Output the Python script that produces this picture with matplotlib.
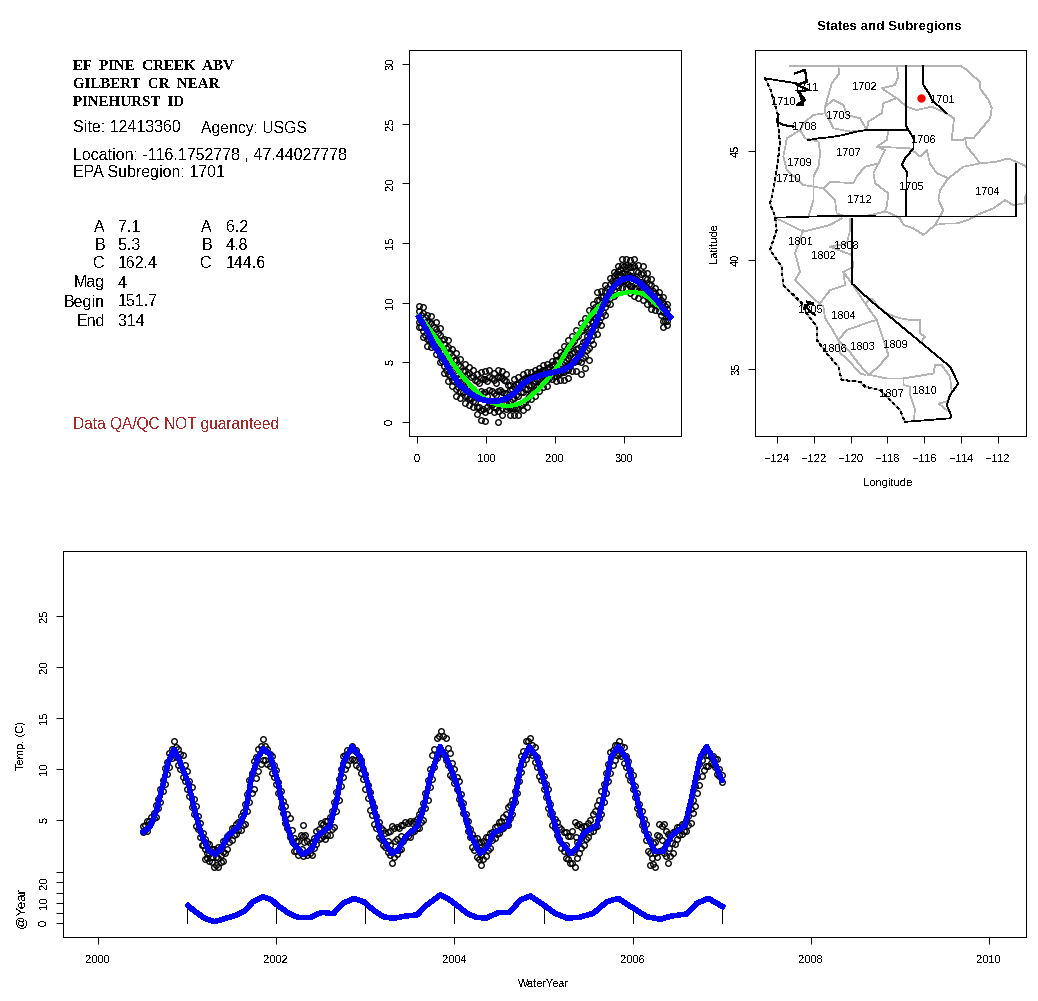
import matplotlib
matplotlib.use('Agg')
import matplotlib.pyplot as plt

plt.rcParams['font.family'] = ['Liberation Sans', 'DejaVu Sans']
plt.rcParams['text.antialiased'] = False
plt.rcParams['lines.antialiased'] = False
plt.rcParams['patch.antialiased'] = False

W, H = 1038, 1001

# --- seasonal panel ---
doy_a = list(range(3, 364, 6))
temp_hi = [9.7, 9.6, 9.0, 8.9, 8.4, 7.9, 7.0, 6.9, 6.1, 5.8, 5.3, 4.9, 4.6, 4.4, 4.0, 4.2, 4.3, 4.4, 4.1, 4.4, 4.3,
           4.0, 3.1, 3.6, 3.8, 4.0, 4.2, 4.2, 4.4, 4.5, 4.8, 4.9, 5.1, 5.6, 5.9, 6.4, 6.9, 7.2, 7.7, 8.3, 8.7,
           9.4, 9.9, 10.9, 11.0, 11.5, 12.1, 12.6, 13.1, 13.7, 13.7, 13.6, 13.7, 13.2, 13.1, 12.5, 12.0, 11.2,
           10.9, 10.5, 9.9]
temp_lo = [8.0, 7.1, 6.4, 6.3, 5.7, 5.0, 4.1, 3.4, 3.0, 2.2, 2.0, 1.6, 1.4, 1.3, 0.7, 0.2, 0.1, 1.0, 0.8, 0.0, 0.6,
           1.1, 0.6, 0.6, 0.6, 1.0, 1.3, 1.9, 2.2, 2.6, 2.9, 3.0, 3.6, 3.4, 3.5, 3.5, 3.7, 4.3, 4.3, 4.0, 4.5,
           5.2, 6.5, 7.4, 8.1, 9.0, 9.9, 10.6, 11.3, 11.2, 11.2, 10.8, 10.6, 10.4, 10.2, 9.9, 9.5, 9.4, 9.3,
           8.0, 8.1]
temp_u1 = [9.3, 9.1, 8.5, 8.3, 7.8, 7.3, 6.5, 6.3, 5.5, 5.2, 4.7, 4.3, 4.1, 3.9, 3.4, 3.7, 3.6, 3.8, 3.5, 3.8, 3.7,
           3.4, 2.7, 3.0, 3.2, 3.5, 3.7, 3.8, 4.0, 4.2, 4.4, 4.5, 4.8, 5.2, 5.4, 5.8, 6.3, 6.6, 7.1, 7.6, 8.0,
           8.7, 9.3, 10.2, 10.5, 11.0, 11.6, 12.2, 12.7, 13.2, 13.2, 13.0, 13.1, 12.6, 12.5, 12.0, 11.5, 10.8,
           10.5, 10.0, 9.5]
temp_c = [8.9, 8.3, 7.7, 7.5, 7.0, 6.4, 5.5, 5.1, 4.5, 4.0, 3.6, 3.2, 3.0, 2.8, 2.4, 2.6, 2.5, 2.7, 2.4, 2.6, 2.5,
          2.4, 1.8, 2.0, 2.2, 2.5, 2.8, 3.1, 3.4, 3.6, 3.9, 4.0, 4.4, 4.6, 4.8, 5.0, 5.4, 5.8, 6.1, 6.4, 6.8,
          7.5, 8.4, 9.2, 9.6, 10.3, 11.0, 11.6, 12.2, 12.5, 12.4, 12.2, 12.1, 11.8, 11.6, 11.2, 10.7, 10.3,
          10.1, 9.2, 9.0]
temp_l1 = [8.4, 7.6, 7.0, 6.8, 6.2, 5.5, 4.7, 4.0, 3.5, 2.8, 2.6, 2.2, 2.0, 1.8, 1.3, 1.0, 0.8, 1.6, 1.3, 0.9, 1.2,
           1.6, 1.2, 1.2, 1.2, 1.6, 1.9, 2.4, 2.7, 3.0, 3.3, 3.5, 4.0, 3.9, 4.1, 4.2, 4.4, 5.0, 5.1, 5.0, 5.5,
           6.2, 7.3, 8.2, 8.8, 9.6, 10.4, 11.1, 11.7, 11.8, 11.7, 11.4, 11.2, 11.0, 10.8, 10.5, 10.0, 9.8,
           9.7, 8.5, 8.5]

doy_b = list(range(6, 361, 6))
temp_m1 = [9.0, 8.8, 8.4, 8.0, 7.5, 6.9, 6.2, 5.8, 5.2, 4.8, 4.3, 4.0, 3.8, 3.5, 3.3, 3.6, 3.4, 3.7, 3.3, 3.8, 3.5,
           3.1, 2.8, 3.2, 3.4, 3.7, 3.8, 3.9, 4.1, 4.3, 4.4, 4.6, 4.9, 5.2, 5.6, 6.0, 6.4, 6.8, 7.2, 7.7, 8.2,
           8.9, 9.6, 10.2, 10.6, 11.2, 11.8, 12.4, 12.8, 13.1, 13.0, 13.0, 12.7, 12.4, 12.1, 11.6, 11.0, 10.6,
           10.2, 9.7]
temp_m2 = [8.5, 8.0, 7.6, 7.2, 6.7, 6.0, 5.3, 4.8, 4.3, 3.7, 3.4, 3.0, 2.8, 2.5, 2.3, 2.4, 2.2, 2.6, 2.3, 2.7, 2.4,
           2.1, 1.9, 2.3, 2.5, 2.8, 3.1, 3.3, 3.6, 3.8, 3.9, 4.1, 4.4, 4.6, 4.9, 5.2, 5.6, 5.9, 6.2, 6.7, 7.2,
           7.9, 8.7, 9.4, 9.9, 10.6, 11.2, 11.9, 12.3, 12.5, 12.4, 12.2, 12.0, 11.7, 11.4, 11.0, 10.5, 10.1,
           9.6, 9.1]
temp_m3 = [8.0, 7.3, 6.9, 6.4, 6.0, 5.1, 4.4, 3.9, 3.4, 2.9, 2.5, 2.2, 2.0, 1.7, 1.3, 1.1, 1.3, 1.5, 1.2, 1.4, 1.5,
           1.3, 1.2, 1.2, 1.4, 1.7, 2.2, 2.6, 3.0, 3.2, 3.4, 3.7, 3.9, 4.0, 4.2, 4.4, 4.7, 5.0, 5.1, 5.4, 6.0,
           6.9, 7.8, 8.5, 9.2, 10.0, 10.7, 11.4, 11.8, 11.8, 11.6, 11.4, 11.2, 11.0, 10.7, 10.3, 10.0, 9.7,
           9.0, 8.5]

fit_doy = [3, 14, 26, 38, 50, 62, 77, 91, 103, 118, 130, 142, 154, 166, 181, 200, 212, 224, 236, 248, 260, 272,
           284, 297, 309, 321, 333, 345, 357, 367]
fit_blue = [8.8, 7.7, 6.3, 5.3, 4.1, 3.1, 2.4, 1.93, 1.76, 1.76, 1.98, 2.46, 3.24, 3.66, 3.94, 4.2, 4.36, 4.78,
            5.6, 6.87, 8.4, 10.1, 11.3, 11.96, 12.1, 11.76, 11.1, 10.4, 9.5, 8.8]
sine_doy = [3, 14, 26, 38, 50, 62, 77, 91, 103, 118, 132, 147, 161, 176, 190, 205, 219, 234, 248, 263, 277, 292,
            309, 326, 338, 352, 367]
sine_green = [8.9, 8.1, 7.15, 6.2, 5.05, 4.1, 3.1, 2.26, 1.8, 1.43, 1.34, 1.5, 1.98, 2.74, 3.66, 4.78, 6.17, 7.43,
              8.69, 9.66, 10.37, 10.73, 10.92, 10.79, 10.37, 9.61, 8.8]

# --- time series panel ---
years = [2000.5 + 0.05 * i for i in range(131)]
series_hi = [4.4, 4.9, 5.3, 6.5, 8.0, 10.1, 11.6, 12.7, 12.0, 11.4,
             9.8, 8.2, 6.4, 4.7, 3.1, 2.6, 2.2, 2.4, 2.9, 3.4, 4.2, 4.6, 5.4, 6.6, 8.9, 10.8, 12.0, 12.9, 12.0, 11.3,
             9.9, 7.8, 6.4, 5.2, 3.2, 2.9, 4.5, 2.9, 2.8, 3.9, 4.7, 4.9, 5.3, 6.8, 9.0, 11.3, 11.9, 12.3, 11.9, 10.9,
             9.5, 7.7, 6.3, 4.8, 4.0, 3.8, 4.4, 4.3, 4.5, 4.8, 4.9, 4.9, 5.6, 6.7, 8.9, 11.4, 13.0, 13.7, 13.0, 11.6,
             10.0, 8.8, 6.7, 4.9, 3.6, 3.2, 2.8, 3.3, 3.7, 4.3, 4.8, 5.3, 6.3, 7.0, 9.0, 11.3, 12.7, 13.0, 12.2, 10.6,
             9.3, 8.0, 5.7, 4.8, 4.1, 3.8, 3.4, 4.8, 4.6, 4.4, 4.7, 5.6, 6.5, 7.8, 9.6, 11.7, 12.4, 12.7, 12.2, 10.8,
             9.4, 7.6, 5.9, 4.6, 3.0, 2.8, 4.6, 4.6, 3.6, 3.8, 4.3, 4.6, 5.0, 6.1, 8.3, 10.5, 11.7, 11.4, 11.3, 11.0,
             9.4]
series_lo = [3.8, 3.9, 4.8, 5.3, 6.8, 8.5, 10.2, 11.6, 10.4, 9.2,
             8.0, 6.3, 4.4, 3.3, 1.2, 1.0, 0.4, 0.4, 1.0, 2.2, 3.0, 3.6, 4.0, 4.6, 6.8, 8.0, 9.8, 10.9, 10.5, 9.6,
             8.5, 6.3, 4.7, 3.3, 2.0, 1.6, 1.5, 1.6, 1.6, 2.6, 3.2, 3.1, 3.5, 4.3, 7.0, 9.2, 10.4, 11.0, 10.4, 9.6,
             8.0, 6.0, 4.6, 3.3, 2.5, 1.9, 0.8, 1.7, 2.2, 3.2, 3.3, 3.9, 4.2, 5.0, 7.0, 9.0, 11.1, 11.6, 10.9, 9.4,
             8.6, 7.1, 5.7, 3.9, 2.4, 1.4, 0.6, 1.5, 2.3, 3.2, 3.7, 4.2, 4.5, 5.6, 7.6, 9.7, 11.0, 11.7, 10.7, 9.3,
             8.0, 6.2, 4.5, 3.5, 2.3, 1.3, 0.8, 0.4, 1.8, 2.5, 3.3, 3.9, 4.4, 5.6, 7.6, 9.6, 10.9, 11.5, 10.6, 9.4,
             8.0, 6.2, 4.5, 3.0, 0.6, 0.4, 2.0, 1.8, 0.8, 1.8, 3.1, 3.6, 3.9, 4.7, 6.4, 8.4, 9.9, 10.3, 10.5, 9.5,
             8.7]

years_mid = [2000.525 + 0.05 * i for i in range(130)]
series_up = [4.5, 4.9, 5.7, 7.1, 8.9, 10.7, 12.0, 12.2, 11.5, 10.4,
             8.8, 7.1, 5.4, 3.7, 2.7, 2.2, 2.1, 2.4, 3.0, 3.6, 4.2, 4.8, 5.8, 7.5, 9.6, 11.2, 12.3, 12.3, 11.5, 10.4,
             8.7, 6.9, 5.6, 4.0, 2.9, 3.5, 3.5, 2.7, 3.2, 4.1, 4.6, 4.9, 5.9, 7.7, 10.0, 11.4, 11.9, 11.9, 11.2, 10.0,
             8.4, 6.8, 5.4, 4.2, 3.7, 3.9, 4.2, 4.2, 4.5, 4.7, 4.7, 5.1, 6.0, 7.6, 10.0, 12.0, 13.2, 13.2, 12.1, 10.6,
             9.2, 7.5, 5.6, 4.1, 3.2, 2.8, 2.9, 3.3, 3.8, 4.4, 4.9, 5.6, 6.5, 7.8, 10.0, 11.8, 12.7, 12.4, 11.2, 9.8,
             8.5, 6.6, 5.1, 4.3, 3.8, 3.4, 3.9, 4.5, 4.3, 4.4, 5.0, 5.9, 7.0, 8.5, 10.5, 11.9, 12.4, 12.3, 11.3, 9.9,
             8.3, 6.6, 5.1, 3.6, 2.7, 3.5, 4.4, 3.9, 3.5, 3.9, 4.3, 4.6, 5.4, 7.0, 9.2, 10.9, 11.4, 11.2, 11.0, 10.0]
series_dn = [4.0, 4.5, 5.2, 6.2, 7.8, 9.5, 11.1, 11.2, 10.0, 8.8,
             7.4, 5.6, 4.1, 2.5, 1.3, 0.9, 0.6, 0.9, 1.8, 2.8, 3.5, 4.0, 4.5, 5.9, 7.6, 9.1, 10.5, 10.9, 10.3, 9.2,
             7.6, 5.7, 4.2, 2.9, 2.0, 1.8, 1.8, 1.8, 2.3, 3.1, 3.4, 3.5, 4.1, 5.9, 8.3, 10.0, 10.9, 10.9, 10.2, 9.0,
             7.2, 5.5, 4.2, 3.1, 2.4, 1.6, 1.4, 2.1, 2.9, 3.4, 3.8, 4.2, 4.8, 6.2, 8.2, 10.2, 11.5, 11.5, 10.4, 9.2,
             8.0, 6.6, 5.0, 3.3, 2.1, 1.2, 1.2, 2.1, 3.0, 3.6, 4.1, 4.5, 5.2, 6.8, 8.8, 10.5, 11.5, 11.4, 10.2, 8.9,
             7.3, 5.6, 4.2, 3.1, 2.0, 1.2, 0.8, 1.3, 2.3, 3.1, 3.8, 4.3, 5.2, 6.8, 8.8, 10.4, 11.4, 11.3, 10.2, 8.9,
             7.3, 5.6, 4.0, 2.0, 0.7, 1.4, 2.1, 1.5, 1.5, 2.6, 3.5, 3.9, 4.5, 5.7, 7.6, 9.3, 10.3, 10.6, 10.2, 9.3]

winter_year = [2001.17, 2001.2, 2001.225, 2001.25, 2001.28, 2001.32, 2001.35, 2001.38, 2001.40, 2002.29, 2002.30,
               2002.31, 2003.25, 2003.28, 2003.30, 2003.33, 2003.36, 2003.40, 2004.27, 2004.30, 2004.33, 2005.25,
               2005.28, 2005.33, 2005.36, 2005.38, 2005.42, 2006.19, 2006.22, 2006.25, 2006.30, 2006.33, 2006.37,
               2006.41, 2006.44]
winter_temp = [2.5, 2.2, 1.8, 1.7, 1.4, 1.4, 1.3, 1.6, 1.9, 2.2, 3.4, 2.8, 2.9, 2.5, 2.0, 2.9, 3.1, 3.4, 2.2, 1.6,
               2.3, 2.5, 1.9, 1.9, 3.3, 2.8, 3.2, 1.8, 1.3, 1.8, 3.4, 3.0, 2.6, 2.3, 2.7]

trend_year = [2000.509, 2000.584, 2000.659, 2000.733, 2000.789, 2000.853, 2000.92, 2001.013, 2001.089, 2001.164,
              2001.238, 2001.313, 2001.388, 2001.462, 2001.575, 2001.65, 2001.725, 2001.8, 2001.855, 2001.93,
              2002.023, 2002.099, 2002.19, 2002.30, 2002.40, 2002.47, 2002.60, 2002.68, 2002.75, 2002.85, 2002.94,
              2003.03, 2003.11, 2003.18, 2003.30, 2003.37, 2003.45, 2003.58, 2003.65, 2003.73, 2003.84, 2003.93,
              2004.03, 2004.10, 2004.18, 2004.29, 2004.36, 2004.44, 2004.60, 2004.68, 2004.75, 2004.84, 2004.92,
              2005.02, 2005.09, 2005.18, 2005.30, 2005.37, 2005.45, 2005.60, 2005.67, 2005.76, 2005.84, 2005.93,
              2006.01, 2006.08, 2006.16, 2006.25, 2006.34, 2006.44, 2006.59, 2006.66, 2006.76, 2006.83, 2006.91,
              2007.0]
trend_temp = [3.85, 4.34, 5.98, 8.6, 10.7, 11.93, 10.7, 8.6, 5.8, 3.5, 2.06, 1.63, 2.2, 3.5, 4.34, 5.65, 9.25, 11.2,
              12.0, 11.4, 8.6, 5.0, 2.7, 1.63, 2.2, 3.5, 4.34, 6.96, 10.56, 12.2, 11.2, 8.4, 5.65, 3.36, 1.73, 2.06,
              3.36, 4.34, 6.0, 9.25, 12.2, 10.7, 8.4, 6.0, 3.5, 1.73, 2.2, 3.7, 4.5, 7.1, 10.56, 12.2, 11.2, 8.4, 5.65,
              3.0, 1.73, 2.2, 3.7, 4.5, 7.1, 11.2, 12.2, 11.05, 8.4, 6.0, 3.5, 1.9, 1.9, 3.5, 4.5, 7.1, 11.2, 12.2,
              10.9, 8.9]

anom_year = [2001.013, 2001.09, 2001.2, 2001.31, 2001.43, 2001.56, 2001.65, 2001.74, 2001.855, 2001.95, 2002.02,
             2002.14, 2002.25, 2002.38, 2002.51, 2002.64, 2002.75, 2002.87, 2002.98, 2003.09, 2003.20, 2003.31,
             2003.46, 2003.58, 2003.69, 2003.84, 2003.91, 2004.01, 2004.14, 2004.25, 2004.36, 2004.49, 2004.62,
             2004.74, 2004.85, 2005.0, 2005.13, 2005.26, 2005.39, 2005.56, 2005.71, 2005.84, 2006.01, 2006.16,
             2006.31, 2006.44, 2006.61, 2006.72, 2006.85, 2007.01]
anom_val = [8.6, 5.7, 2.4, 0.8, 2.4, 4.1, 6.2, 10.6, 13.0, 11.4, 8.6, 4.9, 2.8, 2.8, 5.4, 4.7, 9.8, 12.2, 10.6, 6.5,
            3.2, 2.4, 3.6, 4.1, 9.0, 13.9, 12.5, 9.5, 4.9, 2.8, 2.6, 5.2, 5.4, 11.4, 13.4, 9.0, 4.9, 2.6, 2.8, 4.9,
            10.6, 12.2, 7.35, 3.2, 2.0, 3.6, 4.6, 9.8, 12.2, 8.2]
stem_year = [2001, 2002, 2003, 2004, 2005, 2006, 2007]
stem_val = [8.7, 8.7, 8.8, 9.5, 8.9, 7.4, 8.2]

# --- map lines, lon/lat ---
site_lon, site_lat = -116.1752778, 47.44027778

east_outline = [(-123.29, 48.91), (-114.05, 48.91), (-113.69, 48.72), (-113.42, 48.49), (-112.97, 48.18),
                (-112.97, 47.87), (-112.51, 47.34), (-112.33, 46.96), (-112.42, 46.50), (-112.87, 46.04),
                (-113.33, 45.58), (-113.78, 45.58), (-113.69, 45.20), (-113.24, 44.74), (-112.97, 44.43),
                (-112.06, 44.51), (-111.43, 44.66), (-110.61, 44.36), (-109.98, 43.90), (-109.98, 43.52),
                (-110.52, 42.91), (-110.52, 42.60), (-111.16, 42.52), (-111.61, 42.75), (-112.24, 42.37),
                (-113.15, 42.06), (-113.60, 41.84), (-114.24, 41.68), (-114.78, 41.68), (-115.41, 41.61),
                (-116.05, 41.15), (-116.59, 41.45), (-117.13, 41.61), (-117.32, 41.91), (-117.86, 42.14),
                (-118.13, 42.22)]
r1701_south = [(-118.31, 47.87), (-117.50, 47.42), (-116.95, 47.03), (-116.41, 46.88), (-115.59, 47.03),
               (-114.96, 46.80), (-114.38, 46.50), (-114.51, 45.50), (-113.87, 45.50), (-113.78, 45.58)]
r1702_east = [(-117.50, 48.91), (-117.41, 48.41), (-117.59, 48.03), (-118.31, 47.87)]
r1702_west = [(-120.67, 48.87), (-120.61, 48.56), (-121.03, 48.10), (-121.21, 47.57), (-121.39, 47.03),
              (-121.39, 46.73), (-122.02, 46.65), (-122.48, 46.35), (-122.75, 45.96)]
r1703_loop = [(-121.39, 47.03), (-120.94, 47.34), (-120.40, 47.11), (-120.21, 46.65), (-119.49, 46.50),
              (-119.13, 45.96), (-120.03, 45.89), (-120.94, 46.04), (-121.21, 46.50), (-121.39, 46.73)]
r1703_east = [(-117.50, 47.42), (-118.22, 47.19), (-118.31, 46.73), (-119.04, 46.35), (-119.13, 45.96)]
r1707_east = [(-117.95, 45.96), (-118.04, 45.50), (-118.58, 45.20), (-118.13, 45.05), (-118.49, 44.43),
              (-119.22, 44.28), (-119.67, 43.82), (-119.85, 43.52), (-121.12, 43.59), (-121.48, 43.29),
              (-122.02, 43.36), (-122.02, 42.75), (-122.30, 41.99)]
r1708_south = [(-122.75, 45.96), (-122.48, 45.58), (-121.75, 45.43), (-121.66, 44.89), (-121.75, 44.28),
               (-122.02, 43.82), (-122.02, 43.36)]
r1709_west = [(-122.75, 45.96), (-123.47, 45.58), (-123.66, 44.74), (-123.47, 44.13), (-122.57, 43.44),
              (-122.02, 43.36)]
r1706_south = [(-118.58, 45.20), (-116.77, 45.12), (-116.23, 44.74), (-115.87, 45.05), (-115.69, 44.43),
               (-115.32, 43.98), (-114.69, 43.75), (-113.87, 44.28), (-112.97, 44.43)]
r1705_west = [(-118.13, 45.05), (-118.76, 43.98), (-118.67, 43.52), (-117.95, 43.06), (-118.04, 42.45),
              (-118.13, 42.22)]
r1704_west = [(-114.69, 43.75), (-115.14, 43.21), (-115.23, 42.75), (-114.96, 42.29), (-115.41, 41.61)]
r1712_south = [(-121.48, 43.29), (-120.85, 42.75), (-120.76, 42.14), (-120.21, 41.99), (-119.31, 41.99),
               (-118.13, 42.22)]
r1801_north = [(-124.11, 41.91), (-123.84, 41.83), (-122.57, 41.30), (-121.12, 41.61), (-120.49, 41.91)]
r1801_east = [(-122.57, 41.38), (-123.02, 40.31), (-122.75, 39.46), (-123.02, 39.08), (-122.48, 38.62),
              (-121.94, 38.17), (-121.48, 37.86), (-121.39, 37.33), (-121.03, 36.87), (-120.67, 36.33),
              (-120.58, 35.72), (-120.21, 35.49), (-119.49, 34.80), (-119.22, 34.73)]
r1802_east = [(-120.03, 41.91), (-120.03, 41.38), (-120.21, 40.76), (-121.12, 40.61), (-119.94, 40.23),
              (-119.85, 39.69), (-120.40, 39.46), (-120.30, 38.85), (-121.12, 38.62), (-121.75, 37.93)]
r1804_south = [(-120.40, 39.46), (-119.94, 38.93), (-119.22, 38.01), (-118.58, 37.25), (-118.22, 36.33),
               (-117.95, 35.64), (-118.49, 35.11), (-119.04, 34.73), (-119.58, 35.26), (-120.12, 35.87),
               (-120.67, 36.33)]
r1803_north = [(-120.67, 36.33), (-120.21, 36.79), (-118.94, 37.17), (-118.58, 37.25)]
r1809_east = [(-119.22, 38.01), (-118.85, 38.24), (-118.49, 37.86), (-118.04, 37.55), (-117.32, 37.33),
              (-116.77, 37.25), (-116.23, 37.25), (-116.23, 36.64), (-115.96, 36.48), (-116.23, 36.18)]
r1810_north = [(-118.95, 34.73), (-118.04, 34.57), (-117.13, 34.57), (-115.50, 34.80), (-115.41, 35.18),
               (-115.05, 35.18), (-114.60, 34.65), (-114.51, 33.96), (-114.78, 33.50), (-115.23, 33.42),
               (-114.78, 33.12)]
r1807_east = [(-117.13, 34.57), (-117.13, 34.27), (-116.77, 34.19), (-116.77, 33.81), (-116.50, 33.12),
              (-116.59, 32.59)]
coast = [(-124.65, 48.33), (-124.38, 47.87), (-124.11, 47.11), (-123.93, 46.58), (-123.93, 46.12), (-123.84, 45.35),
         (-124.02, 44.13), (-124.11, 43.67), (-124.29, 42.90), (-124.38, 42.60), (-124.11, 41.99), (-124.02, 41.38),
         (-124.38, 40.46), (-123.75, 39.69), (-123.66, 38.85), (-122.93, 38.24), (-122.66, 38.01), (-122.39, 37.55),
         (-121.84, 36.94), (-121.84, 36.33), (-121.30, 35.72), (-120.67, 35.11), (-120.49, 34.50), (-119.49, 34.42),
         (-119.22, 34.19), (-118.40, 34.04), (-117.32, 33.12), (-117.04, 32.58)]
strait = [(-124.65, 48.33), (-122.93, 48.10)]
wa_id = [(-117.01, 48.91), (-117.01, 46.19), (-116.86, 45.96)]
id_mt = [(-116.05, 48.91), (-116.05, 48.03), (-115.69, 47.57), (-115.59, 47.34), (-114.78, 46.73)]
or_north = [(-122.30, 45.50), (-121.75, 45.58), (-121.12, 45.63), (-120.40, 45.73), (-119.67, 45.89),
            (-119.13, 45.96), (-116.86, 45.96)]
or_id = [(-116.86, 45.96), (-116.59, 45.58), (-116.59, 45.12), (-117.04, 44.66), (-117.22, 44.36),
         (-116.95, 44.05), (-117.01, 41.99)]
border_42 = [(-124.11, 41.94), (-121.12, 42.02), (-117.01, 41.99), (-111.03, 41.99), (-111.03, 44.43)]
ca_nv = [(-119.94, 41.91), (-119.94, 38.93), (-118.95, 38.16), (-114.60, 35.11), (-114.15, 34.34), (-114.60, 33.81),
         (-114.78, 33.35), (-114.51, 32.81), (-114.60, 32.74), (-117.04, 32.58)]
puget = [(-123.02, 48.56), (-122.48, 48.72), (-122.39, 48.18), (-122.93, 48.03), (-122.30, 47.80), (-122.84, 47.72),
         (-122.48, 47.34), (-122.93, 47.11), (-122.57, 47.11), (-122.75, 47.57)]
columbia = [(-123.93, 46.65), (-124.02, 46.35), (-123.66, 46.19), (-123.11, 46.12)]
sf_bay = [(-122.39, 38.09), (-122.03, 38.01), (-122.48, 37.93), (-122.21, 37.63), (-121.93, 37.48)]

gray_lines = [east_outline, r1701_south, r1702_east, r1702_west, r1703_loop, r1703_east, r1707_east, r1708_south,
              r1709_west, r1706_south, r1705_west, r1704_west, r1712_south, r1801_north, r1801_east, r1802_east,
              r1804_south, r1803_north, r1809_east, r1810_north, r1807_east, coast]
black_lines = [strait, wa_id, id_mt, or_north, or_id, border_42, ca_nv]

region_names = ['1711', '1702', '1701', '1710', '1703', '1708', '1707', '1706', '1709', '1710', '1705', '1712',
                '1704', '1801', '1808', '1802', '1805', '1804', '1806', '1803', '1809', '1807', '1810']
region_lon = [-122.42, -119.27, -115.03, -123.67, -120.68, -122.53, -120.14, -116.07, -122.80, -123.40, -116.72,
              -119.54, -112.59, -122.70, -120.25, -121.45, -122.21, -120.41, -120.90, -119.33, -117.59, -117.80,
              -115.96]
region_lat = [47.89, 47.94, 47.34, 47.25, 46.61, 46.10, 44.91, 45.50, 44.45, 43.72, 43.35, 42.75, 43.12, 40.83,
              40.64, 40.18, 37.71, 37.43, 35.92, 36.00, 36.10, 33.85, 33.99]

# --- text block on the left ---
site_lines = ['EF  PINE  CREEK  ABV', 'GILBERT  CR  NEAR', 'PINEHURST  ID']
param_names = ['A', 'B', 'C', 'Mag', 'Begin', 'End']
param_first = ['7.1', '5.3', '162.4', '4', '151.7', '314']
param_second = ['A', 'B', 'C']
param_second_vals = ['6.2', '4.8', '144.6']


def axes_px(fig, left, top, right, bottom):
    return fig.add_axes([left / W, 1 - bottom / H, (right - left) / W, (bottom - top) / H])


def txt(fig, x, y, s, **kw):
    kw.setdefault('va', 'center')
    fig.text(x / W, 1 - y / H, s, **kw)


def style_axes(ax):
    for s in ax.spines.values():
        s.set_linewidth(0.7)
    ax.tick_params(length=5, width=0.7, labelsize=8)
    ax.tick_params(axis='x', pad=8)
    ax.tick_params(axis='y', pad=5)
    for t in ax.get_yticklabels():
        t.set_rotation(90)
        t.set_va('center')


def pts(ax, x, y):
    ax.plot(x, y, ls='none', marker='o', ms=4.0, mfc='none', mec='black', mew=1.0, zorder=2)


fig = plt.figure(figsize=(W / 100, H / 100), dpi=100)

# Bloco de texto
for y, s in zip([66, 84, 102], site_lines):
    txt(fig, 73, y, s, family=['Liberation Serif'], weight='bold', fontsize=10.8)
txt(fig, 73, 128, 'Site: 12413360', fontsize=11.5)
txt(fig, 201, 128, 'Agency: USGS', fontsize=11.3)
txt(fig, 73, 155, 'Location: -116.1752778 , 47.44027778', fontsize=11.5)
txt(fig, 73, 173, 'EPA Subregion: 1701', fontsize=11.5)
row_y = [227, 245, 264, 283, 302, 321]
for y, name, val in zip(row_y, param_names, param_first):
    txt(fig, 105, y, name, ha='right', fontsize=11.5)
    txt(fig, 118, y, val, fontsize=11.5)
for y, name, val in zip(row_y, param_second, param_second_vals):
    txt(fig, 212, y, name, ha='right', fontsize=11.5)
    txt(fig, 226, y, val, fontsize=11.5)
txt(fig, 73, 424, 'Data QA/QC NOT guaranteed', color='#a52a2a', fontsize=11.2)

# Painel sazonal
ax1 = axes_px(fig, 409, 50, 681, 436)
for row in [temp_hi, temp_lo, temp_u1, temp_c, temp_l1]:
    pts(ax1, doy_a, row)
for row in [temp_m1, temp_m2, temp_m3]:
    pts(ax1, doy_b, row)
ax1.plot(sine_doy, sine_green, color='#00ff00', lw=2.4, zorder=3)
ax1.plot(fit_doy, fit_blue, color='#0000ff', lw=3.3, zorder=4)
ax1.set_xlim(-11.6, 382.6)
ax1.set_ylim(-1.17, 31.18)
ax1.set_xticks([0, 100, 200, 300])
ax1.set_yticks([0, 5, 10, 15, 20, 25, 30])
style_axes(ax1)

# Mapa
ax2 = axes_px(fig, 755, 50, 1026, 436)
for line in gray_lines:
    ax2.plot([p[0] for p in line], [p[1] for p in line], color='#b4b4b4', lw=0.5, zorder=1)
for line in black_lines:
    ax2.plot([p[0] for p in line], [p[1] for p in line], color='black', lw=0.5, zorder=2)
ax2.plot([p[0] for p in coast], [p[1] for p in coast], color='black', lw=0.5, ls=(0, (4, 5)), zorder=2)
for line in [puget, columbia, sf_bay]:
    ax2.plot([p[0] for p in line], [p[1] for p in line], color='black', lw=0.8, zorder=2)
for name, lon, lat in zip(region_names, region_lon, region_lat):
    ax2.text(lon, lat, name, fontsize=8, ha='center', va='center', zorder=3)
ax2.plot([site_lon], [site_lat], marker='o', ms=5, color='red', ls='none', zorder=4)
ax2.set_xlim(-125.2, -110.47)
ax2.set_ylim(31.93, 49.63)
ax2.set_xticks(list(range(-124, -110, 2)))
ax2.set_yticks([35, 40, 45])
style_axes(ax2)
txt(fig, 888, 483, 'Longitude', ha='center', fontsize=8)
txt(fig, 714, 243, 'Latitude', ha='center', rotation=90, fontsize=8)
txt(fig, 889, 27, 'States and Subregions', ha='center', weight='bold', fontsize=9.6)

# Serie temporal
ax3 = axes_px(fig, 63, 551, 1026, 937)
pts(ax3, years, series_hi)
pts(ax3, years, series_lo)
pts(ax3, years_mid, series_up)
pts(ax3, years_mid, series_dn)
pts(ax3, winter_year, winter_temp)
ax3.plot(trend_year, trend_temp, color='#0000ff', lw=3.2, zorder=4)
ax3.set_xlim(1999.607, 2010.415)
ax3.set_ylim(-6.47, 31.37)
ax3.set_xticks([2000, 2002, 2004, 2006, 2008, 2010])
ax3.set_yticks([5, 10, 15, 20, 25])
style_axes(ax3)

ax4 = ax3.twinx()
ax4.vlines(stem_year, 0, stem_val, color='black', lw=0.7, zorder=3)
ax4.plot(anom_year, anom_val, color='#0000ff', lw=3.2, zorder=4)
ax4.set_ylim(-6.72, 182.5)
ax4.yaxis.tick_left()
ax4.set_yticks([0, 5, 10, 15, 20, 25])
ax4.set_yticklabels(['0', '', '10', '', '20', ''])
style_axes(ax4)

txt(fig, 21, 745, 'Temp. (C)', ha='center', rotation=90, fontsize=8)
txt(fig, 21, 908, '@Year', ha='center', rotation=90, fontsize=9.5)
txt(fig, 543, 984, 'WaterYear', ha='center', fontsize=7.8)

fig.savefig('out.png', dpi=100)
